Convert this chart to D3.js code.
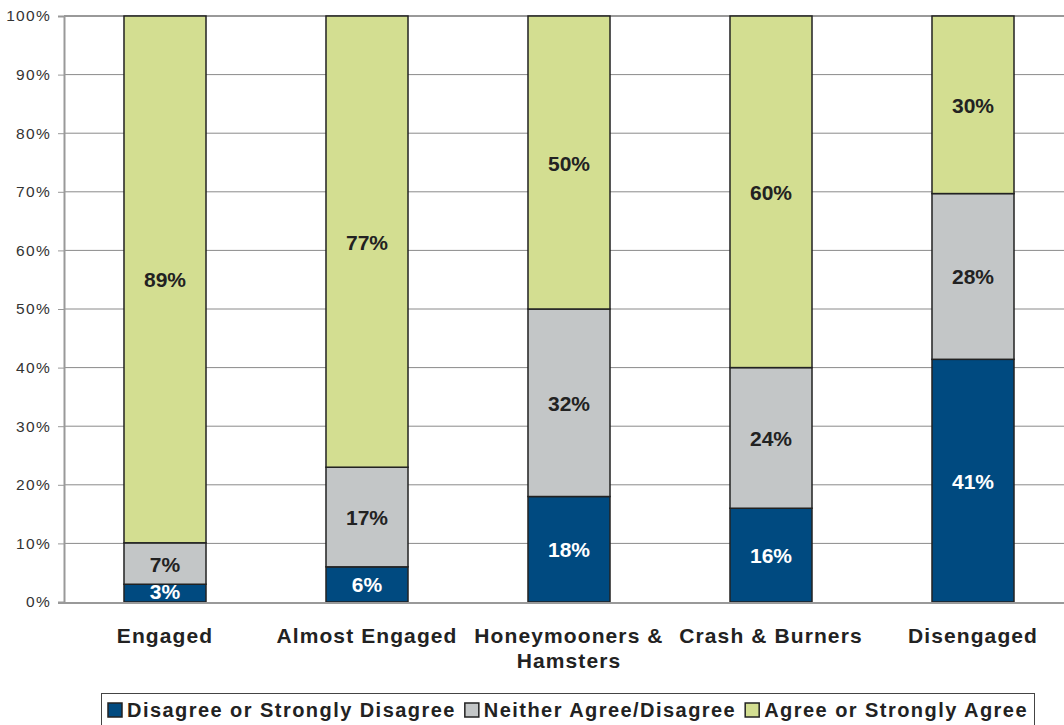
<!DOCTYPE html>
<html>
<head>
<meta charset="utf-8">
<script src="https://cdn.jsdelivr.net/npm/d3@7"></script>
<style>
  html, body { margin: 0; padding: 0; background: #fff; }
  svg { display: block; font-family: "Liberation Sans", Arial, sans-serif; }
</style>
</head>
<body>
<svg id="chart" width="1064" height="725"></svg>
<script>
// Survey response shares by engagement segment (percent)
const categories = ["Engaged", "Almost Engaged", "Honeymooners & Hamsters", "Crash & Burners", "Disengaged"];
const seriesNames = ["Disagree or Strongly Disagree", "Neither Agree/Disagree", "Agree or Strongly Agree"];
const disagree = [3, 6, 18, 16, 41];
const neither  = [7, 17, 32, 24, 28];
const agree    = [89, 77, 50, 60, 30];
const yTicks = [0, 0.1, 0.2, 0.3, 0.4, 0.5, 0.6, 0.7, 0.8, 0.9, 1.0];
const colors = ["#004a80", "#c3c6c7", "#d3de91"];
const labelColors = ["#ffffff", "#222222", "#222222"];

(function () {
  const rows = categories.map((c, i) => ({
    cat: c,
    [seriesNames[0]]: disagree[i],
    [seriesNames[1]]: neither[i],
    [seriesNames[2]]: agree[i]
  }));

  const stack = d3.stack().keys(seriesNames).offset(d3.stackOffsetExpand);
  const layers = stack(rows);

  const svg = d3.select("#chart");
  const plotLeft = 64, plotRight = 1074, plotTop = 16, plotBottom = 602;

  const x = d3.scaleBand().domain(categories).range([plotLeft, plotRight]).paddingInner(0.594).paddingOuter(0.297);
  const y = d3.scaleLinear().domain([0, 1]).range([plotBottom, plotTop]);

  // Horizontal gridlines
  svg.append("g").selectAll("line")
    .data(yTicks.filter(t => t > 0 && t < 1))
    .join("line")
    .attr("x1", plotLeft).attr("x2", 1064)
    .attr("y1", d => y(d)).attr("y2", d => y(d))
    .attr("stroke", "#8a8a8a").attr("stroke-width", 1);

  // Top border line
  svg.append("line").attr("x1", plotLeft).attr("x2", 1064)
    .attr("y1", y(1)).attr("y2", y(1))
    .attr("stroke", "#999").attr("stroke-width", 2);

  // Y axis
  const yAxis = d3.axisLeft(y).tickValues(yTicks).tickFormat(d3.format(".0%")).tickSize(6).tickPadding(7);
  const ya = svg.append("g").attr("transform", `translate(${plotLeft},0)`).call(yAxis);
  ya.select(".domain").attr("stroke", "#999").attr("stroke-width", 2);
  ya.selectAll(".tick line").attr("stroke", "#999");
  ya.selectAll(".tick text").attr("fill", "#333")
    .style("font-size", "15.5px").style("letter-spacing", "1.3px")
    .style("font-family", "Liberation Sans, Arial, sans-serif");

  // Bars
  const g = svg.append("g");
  layers.forEach((layer, li) => {
    g.append("g").selectAll("rect")
      .data(layer)
      .join("rect")
      .attr("x", d => x(d.data.cat))
      .attr("width", x.bandwidth())
      .attr("y", d => y(d[1]))
      .attr("height", d => y(d[0]) - y(d[1]))
      .attr("fill", colors[li])
      .attr("stroke", "#222")
      .attr("stroke-width", 1.5);
  });

  // X baseline
  svg.append("line").attr("x1", plotLeft - 6).attr("x2", 1064)
    .attr("y1", plotBottom + 1).attr("y2", plotBottom + 1)
    .attr("stroke", "#999").attr("stroke-width", 2);

  // Value labels
  layers.forEach((layer, li) => {
    svg.append("g").selectAll("text")
      .data(layer)
      .join("text")
      .attr("x", d => x(d.data.cat) + x.bandwidth() / 2)
      .attr("y", d => {
        const mid = (y(d[0]) + y(d[1])) / 2;
        return li === 0 && d.data.cat === "Engaged" ? y(d[0]) - 3 : mid + 8;
      })
      .attr("text-anchor", "middle")
      .attr("fill", labelColors[li])
      .style("font-size", "21px")
      .style("font-weight", "bold")
      .text(d => d.data[seriesNames[li]] + "%");
  });

  // Category labels
  const catLines = {
    "Honeymooners & Hamsters": ["Honeymooners &", "Hamsters"]
  };
  const cl = svg.append("g");
  categories.forEach(c => {
    const lines = catLines[c] || [c];
    const cx = x(c) + x.bandwidth() / 2;
    const t = cl.append("text")
      .attr("x", cx)
      .attr("y", 643)
      .attr("text-anchor", "middle")
      .attr("fill", "#222")
      .style("font-size", "21px")
      .style("letter-spacing", "1.1px")
      .style("font-weight", "bold");
    lines.forEach((ln, i) => {
      t.append("tspan").attr("x", cx).attr("dy", i === 0 ? 0 : 25).text(ln);
    });
  });

  // Legend
  const lg = svg.append("g");
  lg.append("rect").attr("x", 101.5).attr("y", 693.5).attr("width", 933).attr("height", 40)
    .attr("fill", "#fff").attr("stroke", "#444").attr("stroke-width", 1);
  let lx = 108;
  seriesNames.forEach((s, i) => {
    lg.append("rect").attr("x", lx).attr("y", 703).attr("width", 14).attr("height", 14)
      .attr("fill", colors[i]).attr("stroke", "#222").attr("stroke-width", 1.5);
    const t = lg.append("text").attr("x", lx + 19).attr("y", 717)
      .attr("fill", "#222").style("font-size", "20px").style("letter-spacing", "1.45px")
      .style("font-weight", "bold").text(s);
    lx += 19 + t.node().getComputedTextLength() + 9;
  });
})();
</script>
</body>
</html>
